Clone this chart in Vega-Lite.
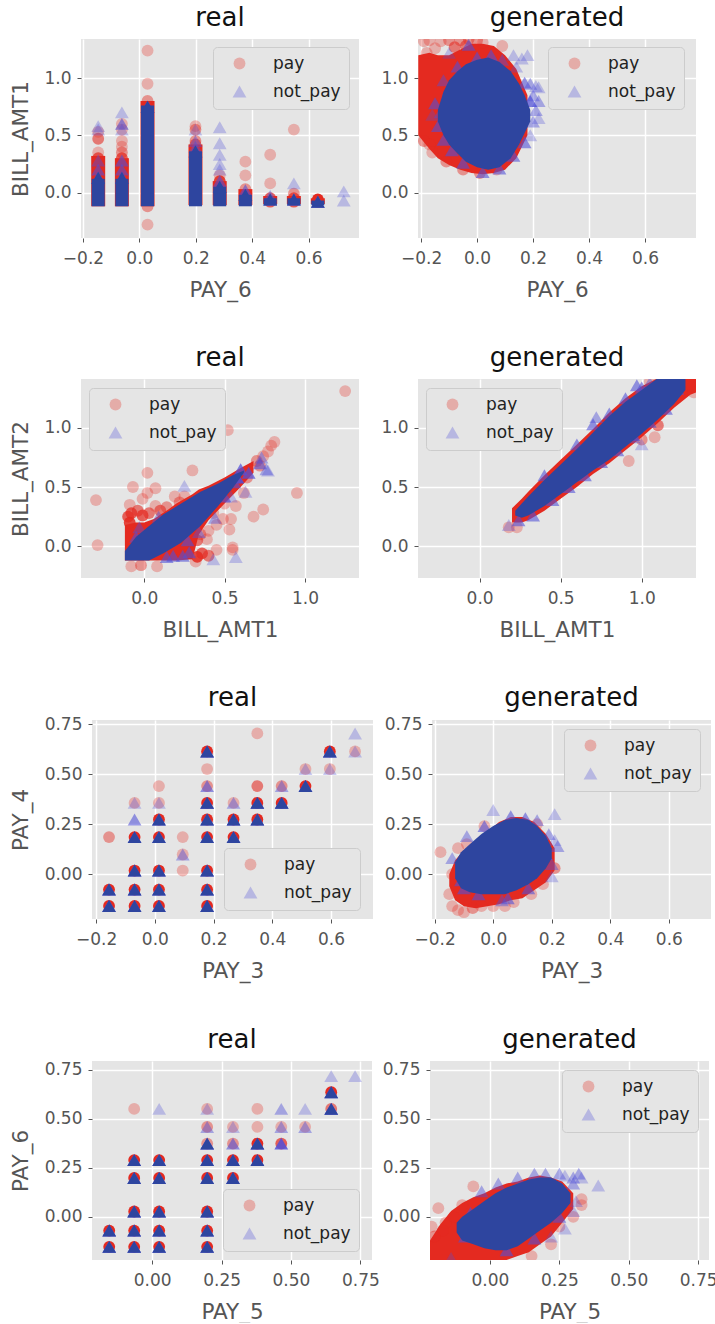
{"$schema":"https://vega.github.io/schema/vega-lite/v6.json","padding":{"left":9,"top":5,"right":0,"bottom":0},"background":"#ffffff",
"config":{"font":"DejaVu Sans","view":{"fill":"#e5e5e5","stroke":null},"axis":{"grid":true,"gridColor":"#ffffff","gridWidth":1.5,"domain":false,"tickColor":"#555555","tickSize":4,"labelColor":"#555555","labelFontSize":17,"titleColor":"#555555","titleFontSize":21.5,"titleFontWeight":"normal"},"axisX":{"labelPadding":8,"titlePadding":13},"axisY":{"labelPadding":6,"titlePadding":11.5},"title":{"fontSize":26,"fontWeight":"normal","color":"#111111","offset":8},"legend":{"fillColor":"#e5e5e5","strokeColor":"#cccccc","cornerRadius":4,"padding":8,"labelFontSize":17,"labelColor":"#222222","symbolOpacity":0.3,"rowPadding":9,"labelOffset":25,"symbolOffset":10}},
"datasets":{
"none":[],
"a1":[
{"s":"pay","x":-0.146,"y":-0.12,"y2":0.32},{"s":"pay","x":-0.062,"y":-0.12,"y2":0.3},{"s":"pay","x":0.029,"y":-0.12,"y2":0.8},{"s":"pay","x":0.199,"y":-0.11,"y2":0.42},{"s":"pay","x":0.285,"y":-0.11,"y2":0.1},{"s":"pay","x":0.376,"y":-0.11,"y2":0.03},{"s":"pay","x":0.464,"y":-0.1,"y2":-0.03},{"s":"pay","x":0.548,"y":-0.1,"y2":-0.03},{"s":"pay","x":0.633,"y":-0.1,"y2":-0.05},
{"s":"not_pay","x":-0.146,"y":-0.12,"y2":0.12},{"s":"not_pay","x":-0.062,"y":-0.12,"y2":0.12},{"s":"not_pay","x":0.029,"y":-0.12,"y2":0.76},{"s":"not_pay","x":0.199,"y":-0.12,"y2":0.36},{"s":"not_pay","x":0.285,"y":-0.12,"y2":0.05},{"s":"not_pay","x":0.376,"y":-0.12,"y2":-0.02},{"s":"not_pay","x":0.464,"y":-0.11,"y2":-0.05},{"s":"not_pay","x":0.548,"y":-0.11,"y2":-0.05},{"s":"not_pay","x":0.633,"y":-0.11,"y2":-0.07}],
"p1":[
{"x":-0.146,"y":0.3,"s":"pay","n":4},{"x":-0.146,"y":0.35,"s":"pay","n":1},{"x":-0.146,"y":0.47,"s":"pay","n":3},{"x":-0.146,"y":0.53,"s":"pay","n":1},
{"x":-0.062,"y":0.3,"s":"pay","n":4},{"x":-0.062,"y":0.35,"s":"pay","n":2},{"x":-0.062,"y":0.4,"s":"pay","n":1},{"x":-0.062,"y":0.45,"s":"pay","n":1},{"x":-0.062,"y":0.55,"s":"pay","n":1},{"x":-0.062,"y":0.6,"s":"pay","n":1},
{"x":0.029,"y":-0.28,"s":"pay","n":1},{"x":0.029,"y":-0.12,"s":"pay","n":2},{"x":0.029,"y":0.8,"s":"pay","n":2},{"x":0.029,"y":0.95,"s":"pay","n":1},{"x":0.029,"y":1.24,"s":"pay","n":1},
{"x":0.199,"y":0.42,"s":"pay","n":3},{"x":0.199,"y":0.45,"s":"pay","n":2},{"x":0.199,"y":0.55,"s":"pay","n":2},{"x":0.199,"y":0.58,"s":"pay","n":1},
{"x":0.285,"y":0.1,"s":"pay","n":5},{"x":0.285,"y":0.15,"s":"pay","n":1},
{"x":0.376,"y":0.03,"s":"pay","n":2},{"x":0.376,"y":0.15,"s":"pay","n":1},{"x":0.376,"y":0.27,"s":"pay","n":1},
{"x":0.464,"y":-0.08,"s":"pay","n":4},{"x":0.464,"y":-0.05,"s":"pay","n":4},{"x":0.464,"y":0.08,"s":"pay","n":1},{"x":0.464,"y":0.33,"s":"pay","n":1},
{"x":0.548,"y":-0.08,"s":"pay","n":4},{"x":0.548,"y":-0.05,"s":"pay","n":4},{"x":0.548,"y":-0.01,"s":"pay","n":2},{"x":0.548,"y":0.55,"s":"pay","n":1},
{"x":0.633,"y":-0.08,"s":"pay","n":6},{"x":0.633,"y":-0.06,"s":"pay","n":6},
{"x":-0.146,"y":0.13,"s":"not_pay","n":6},{"x":-0.146,"y":0.2,"s":"not_pay","n":3},{"x":-0.146,"y":0.28,"s":"not_pay","n":2},{"x":-0.146,"y":0.55,"s":"not_pay","n":1},{"x":-0.146,"y":0.58,"s":"not_pay","n":1},
{"x":-0.062,"y":0.13,"s":"not_pay","n":6},{"x":-0.062,"y":0.2,"s":"not_pay","n":3},{"x":-0.062,"y":0.28,"s":"not_pay","n":3},{"x":-0.062,"y":0.55,"s":"not_pay","n":1},{"x":-0.062,"y":0.6,"s":"not_pay","n":3},{"x":-0.062,"y":0.7,"s":"not_pay","n":1},
{"x":0.029,"y":0.75,"s":"not_pay","n":6},
{"x":0.199,"y":0.36,"s":"not_pay","n":6},{"x":0.199,"y":0.4,"s":"not_pay","n":2},{"x":0.199,"y":0.45,"s":"not_pay","n":2},{"x":0.199,"y":0.55,"s":"not_pay","n":1},
{"x":0.285,"y":0.05,"s":"not_pay","n":6},{"x":0.285,"y":0.1,"s":"not_pay","n":3},{"x":0.285,"y":0.2,"s":"not_pay","n":1},{"x":0.285,"y":0.25,"s":"not_pay","n":1},{"x":0.285,"y":0.33,"s":"not_pay","n":1},{"x":0.285,"y":0.43,"s":"not_pay","n":1},{"x":0.285,"y":0.57,"s":"not_pay","n":1},
{"x":0.376,"y":-0.02,"s":"not_pay","n":6},{"x":0.376,"y":0.02,"s":"not_pay","n":3},
{"x":0.464,"y":-0.06,"s":"not_pay","n":6},{"x":0.464,"y":-0.03,"s":"not_pay","n":2},
{"x":0.548,"y":-0.06,"s":"not_pay","n":6},{"x":0.548,"y":0.08,"s":"not_pay","n":1},
{"x":0.633,"y":-0.08,"s":"not_pay","n":6},{"x":0.725,"y":0.01,"s":"not_pay","n":1},{"x":0.725,"y":-0.07,"s":"not_pay","n":1}],
"a2":[
{"s":"pay","x":-0.21,"y":0.5,"y2":1.2},{"s":"pay","x":-0.17,"y":0.38,"y2":1.22},{"s":"pay","x":-0.14,"y":0.3,"y2":1.2},{"s":"pay","x":-0.1,"y":0.24,"y2":1.2},{"s":"pay","x":-0.06,"y":0.2,"y2":1.25},{"s":"pay","x":-0.02,"y":0.17,"y2":1.3},{"s":"pay","x":0.02,"y":0.16,"y2":1.3},{"s":"pay","x":0.06,"y":0.17,"y2":1.28},{"s":"pay","x":0.1,"y":0.2,"y2":1.2},{"s":"pay","x":0.14,"y":0.3,"y2":1.08},{"s":"pay","x":0.18,"y":0.5,"y2":0.85},
{"s":"not_pay","x":-0.14,"y":0.62,"y2":0.72},{"s":"not_pay","x":-0.12,"y":0.5,"y2":0.88},{"s":"not_pay","x":-0.1,"y":0.42,"y2":0.98},{"s":"not_pay","x":-0.07,"y":0.34,"y2":1.06},{"s":"not_pay","x":-0.04,"y":0.27,"y2":1.12},{"s":"not_pay","x":0,"y":0.22,"y2":1.16},{"s":"not_pay","x":0.04,"y":0.2,"y2":1.18},{"s":"not_pay","x":0.08,"y":0.22,"y2":1.14},{"s":"not_pay","x":0.12,"y":0.3,"y2":1.06},{"s":"not_pay","x":0.15,"y":0.42,"y2":0.95},{"s":"not_pay","x":0.17,"y":0.52,"y2":0.85},{"s":"not_pay","x":0.19,"y":0.62,"y2":0.72}],
"p2":[
{"x":-0.19,"y":1.32,"s":"pay","n":1},{"x":-0.17,"y":1.33,"s":"pay","n":1},{"x":-0.18,"y":1.22,"s":"pay","n":1},{"x":-0.13,"y":1.32,"s":"pay","n":1},{"x":-0.1,"y":1.33,"s":"pay","n":2},{"x":-0.06,"y":1.33,"s":"pay","n":2},{"x":-0.03,"y":1.34,"s":"pay","n":2},{"x":0,"y":1.33,"s":"pay","n":2},{"x":0.02,"y":1.31,"s":"pay","n":1},{"x":0.09,"y":1.28,"s":"pay","n":1},{"x":-0.15,"y":1.26,"s":"pay","n":1},{"x":-0.08,"y":1.27,"s":"pay","n":3},{"x":-0.04,"y":1.28,"s":"pay","n":3},{"x":-0.17,"y":0.42,"s":"pay","n":1},{"x":-0.16,"y":0.35,"s":"pay","n":1},{"x":-0.19,"y":0.45,"s":"pay","n":2},{"x":-0.11,"y":0.27,"s":"pay","n":2},{"x":-0.05,"y":0.2,"s":"pay","n":2},{"x":0.01,"y":0.17,"s":"pay","n":2},{"x":0.07,"y":0.2,"s":"pay","n":1},{"x":0.13,"y":0.95,"s":"pay","n":1},
{"x":-0.03,"y":1.29,"s":"not_pay","n":3},{"x":-0.1,"y":1.22,"s":"not_pay","n":1},{"x":0.13,"y":1.2,"s":"not_pay","n":1},{"x":0.18,"y":1.2,"s":"not_pay","n":1},{"x":0.16,"y":1.17,"s":"not_pay","n":1},{"x":0.14,"y":1.1,"s":"not_pay","n":1},{"x":0.19,"y":0.95,"s":"not_pay","n":2},{"x":0.21,"y":0.93,"s":"not_pay","n":1},{"x":0.22,"y":0.92,"s":"not_pay","n":1},{"x":0.2,"y":0.85,"s":"not_pay","n":2},{"x":0.22,"y":0.8,"s":"not_pay","n":2},{"x":0.21,"y":0.72,"s":"not_pay","n":2},{"x":0.22,"y":0.65,"s":"not_pay","n":1},{"x":0.2,"y":0.62,"s":"not_pay","n":2},{"x":0.19,"y":0.5,"s":"not_pay","n":1},{"x":-0.13,"y":0.7,"s":"not_pay","n":2},{"x":-0.16,"y":0.68,"s":"not_pay","n":1},{"x":-0.15,"y":0.78,"s":"not_pay","n":3},{"x":-0.14,"y":0.58,"s":"not_pay","n":3},{"x":-0.12,"y":0.46,"s":"not_pay","n":3},{"x":-0.1,"y":0.9,"s":"not_pay","n":4},{"x":-0.12,"y":0.98,"s":"not_pay","n":2},{"x":-0.07,"y":1.1,"s":"not_pay","n":3},{"x":0,"y":1.18,"s":"not_pay","n":3},{"x":0.05,"y":1.2,"s":"not_pay","n":3},{"x":0.09,"y":1.16,"s":"not_pay","n":2},{"x":0.17,"y":0.96,"s":"not_pay","n":3},{"x":0.19,"y":0.8,"s":"not_pay","n":4},{"x":0.17,"y":0.44,"s":"not_pay","n":3},{"x":0.13,"y":0.32,"s":"not_pay","n":3},{"x":0.08,"y":0.21,"s":"not_pay","n":3},{"x":0.02,"y":0.18,"s":"not_pay","n":3},{"x":-0.05,"y":0.26,"s":"not_pay","n":3},{"x":-0.09,"y":0.37,"s":"not_pay","n":3}],
"a3":[
{"s":"pay","x":-0.12,"y":-0.12,"y2":0.18},{"s":"pay","x":-0.05,"y":-0.12,"y2":0.2},{"s":"pay","x":0,"y":-0.12,"y2":0.2},{"s":"pay","x":0.06,"y":-0.12,"y2":0.23},{"s":"pay","x":0.15,"y":-0.12,"y2":0.31},{"s":"pay","x":0.2,"y":-0.12,"y2":0.36},{"s":"pay","x":0.3,"y":-0.11,"y2":0.44},{"s":"pay","x":0.34,"y":0.1,"y2":0.48},{"s":"pay","x":0.4,"y":0.22,"y2":0.51},{"s":"pay","x":0.5,"y":0.36,"y2":0.58},{"s":"pay","x":0.6,"y":0.5,"y2":0.66},{"s":"pay","x":0.68,"y":0.62,"y2":0.72},
{"s":"not_pay","x":-0.12,"y":-0.12,"y2":-0.04},{"s":"not_pay","x":-0.05,"y":-0.12,"y2":0.08},{"s":"not_pay","x":0.03,"y":-0.12,"y2":0.17},{"s":"not_pay","x":0.12,"y":-0.06,"y2":0.27},{"s":"not_pay","x":0.23,"y":0.03,"y2":0.36},{"s":"not_pay","x":0.35,"y":0.17,"y2":0.46},{"s":"not_pay","x":0.46,"y":0.34,"y2":0.53},{"s":"not_pay","x":0.55,"y":0.49,"y2":0.6},{"s":"not_pay","x":0.62,"y":0.62,"y2":0.64}],
"p3":[
{"x":-0.1,"y":0.25,"s":"pay","n":4},{"x":-0.08,"y":0.28,"s":"pay","n":4},{"x":-0.04,"y":0.3,"s":"pay","n":3},{"x":-0.01,"y":0.26,"s":"pay","n":4},{"x":0.03,"y":0.28,"s":"pay","n":3},{"x":0.1,"y":0.3,"s":"pay","n":3},{"x":0.14,"y":0.33,"s":"pay","n":2},{"x":-0.09,"y":0.2,"s":"pay","n":5},
{"x":1.25,"y":1.31,"s":"pay","n":1},{"x":0.52,"y":0.98,"s":"pay","n":1},{"x":0.95,"y":0.45,"s":"pay","n":1},{"x":-0.3,"y":0.39,"s":"pay","n":1},{"x":-0.29,"y":0.01,"s":"pay","n":1},{"x":0.02,"y":0.62,"s":"pay","n":1},{"x":-0.07,"y":0.5,"s":"pay","n":1},{"x":0.3,"y":0.64,"s":"pay","n":1},{"x":0.07,"y":0.49,"s":"pay","n":1},{"x":0.02,"y":0.45,"s":"pay","n":1},{"x":-0.01,"y":0.4,"s":"pay","n":1},{"x":-0.09,"y":0.35,"s":"pay","n":1},{"x":0.07,"y":0.34,"s":"pay","n":1},{"x":0.19,"y":0.42,"s":"pay","n":1},{"x":0.25,"y":0.42,"s":"pay","n":1},{"x":0.22,"y":0.37,"s":"pay","n":2},{"x":0.81,"y":0.88,"s":"pay","n":1},{"x":0.79,"y":0.85,"s":"pay","n":1},{"x":0.77,"y":0.8,"s":"pay","n":1},{"x":0.74,"y":0.76,"s":"pay","n":1},{"x":0.7,"y":0.72,"s":"pay","n":2},{"x":0.74,"y":0.31,"s":"pay","n":1},{"x":0.68,"y":0.25,"s":"pay","n":1},{"x":0.53,"y":0.14,"s":"pay","n":1},{"x":0.57,"y":0.34,"s":"pay","n":1},{"x":0.54,"y":0.23,"s":"pay","n":1},{"x":0.49,"y":0.23,"s":"pay","n":1},{"x":0.43,"y":0.28,"s":"pay","n":1},{"x":0.39,"y":0.06,"s":"pay","n":1},{"x":0.45,"y":-0.03,"s":"pay","n":1},{"x":0.55,"y":-0.03,"s":"pay","n":1},{"x":0.55,"y":-0.01,"s":"pay","n":1},{"x":-0.08,"y":-0.17,"s":"pay","n":1},{"x":0.08,"y":-0.17,"s":"pay","n":1},{"x":0.32,"y":-0.13,"s":"pay","n":1},{"x":0.62,"y":0.45,"s":"pay","n":1},{"x":0.5,"y":0.36,"s":"pay","n":1},{"x":0.35,"y":0.1,"s":"pay","n":2},{"x":0.4,"y":0.13,"s":"pay","n":1},{"x":0.36,"y":-0.06,"s":"pay","n":4},{"x":0.33,"y":-0.09,"s":"pay","n":5},{"x":0.4,"y":-0.08,"s":"pay","n":3},{"x":0.33,"y":0.05,"s":"pay","n":3},{"x":0.45,"y":0.18,"s":"pay","n":1},{"x":-0.02,"y":-0.16,"s":"pay","n":2},{"x":0.64,"y":0.58,"s":"pay","n":2},{"x":0.72,"y":0.68,"s":"pay","n":2},
{"x":0.25,"y":0.51,"s":"not_pay","n":1},{"x":0.43,"y":-0.11,"s":"not_pay","n":1},{"x":0.57,"y":-0.09,"s":"not_pay","n":1},{"x":0.63,"y":0.46,"s":"not_pay","n":1},{"x":0.54,"y":0.42,"s":"not_pay","n":1},{"x":0.76,"y":0.65,"s":"not_pay","n":2},{"x":0.77,"y":0.64,"s":"not_pay","n":1},{"x":0.72,"y":0.7,"s":"not_pay","n":3},{"x":0.73,"y":0.75,"s":"not_pay","n":2},{"x":0.6,"y":0.65,"s":"not_pay","n":4},{"x":0.65,"y":0.62,"s":"not_pay","n":4},{"x":0.58,"y":0.58,"s":"not_pay","n":5},{"x":0.09,"y":0.25,"s":"not_pay","n":2},{"x":-0.03,"y":0.16,"s":"not_pay","n":2},{"x":-0.05,"y":0.08,"s":"not_pay","n":3},{"x":0.18,"y":-0.08,"s":"not_pay","n":3},{"x":0.24,"y":-0.08,"s":"not_pay","n":3},{"x":0.28,"y":-0.05,"s":"not_pay","n":3},{"x":0.14,"y":-0.09,"s":"not_pay","n":3},{"x":0.27,"y":0.05,"s":"not_pay","n":3},{"x":0.34,"y":0.12,"s":"not_pay","n":2},{"x":0.44,"y":0.24,"s":"not_pay","n":2},{"x":0.5,"y":0.42,"s":"not_pay","n":3},{"x":0.56,"y":0.54,"s":"not_pay","n":3}],
"a4":[
{"s":"pay","x":0.2,"y":0.2,"y2":0.32},{"s":"pay","x":0.26,"y":0.2,"y2":0.4},{"s":"pay","x":0.3,"y":0.22,"y2":0.46},{"s":"pay","x":0.4,"y":0.3,"y2":0.6},{"s":"pay","x":0.5,"y":0.4,"y2":0.73},{"s":"pay","x":0.6,"y":0.5,"y2":0.86},{"s":"pay","x":0.7,"y":0.61,"y2":0.99},{"s":"pay","x":0.8,"y":0.7,"y2":1.13},{"s":"pay","x":0.9,"y":0.81,"y2":1.25},{"s":"pay","x":1,"y":0.92,"y2":1.35},{"s":"pay","x":1.1,"y":1.04,"y2":1.42},{"s":"pay","x":1.2,"y":1.17,"y2":1.42},{"s":"pay","x":1.3,"y":1.28,"y2":1.42},{"s":"pay","x":1.34,"y":1.3,"y2":1.42},
{"s":"not_pay","x":0.22,"y":0.26,"y2":0.3},{"s":"not_pay","x":0.26,"y":0.24,"y2":0.36},{"s":"not_pay","x":0.3,"y":0.26,"y2":0.42},{"s":"not_pay","x":0.4,"y":0.34,"y2":0.56},{"s":"not_pay","x":0.5,"y":0.44,"y2":0.69},{"s":"not_pay","x":0.6,"y":0.54,"y2":0.82},{"s":"not_pay","x":0.7,"y":0.64,"y2":0.96},{"s":"not_pay","x":0.8,"y":0.73,"y2":1.1},{"s":"not_pay","x":0.9,"y":0.84,"y2":1.22},{"s":"not_pay","x":1,"y":0.95,"y2":1.32},{"s":"not_pay","x":1.1,"y":1.07,"y2":1.42},{"s":"not_pay","x":1.2,"y":1.2,"y2":1.42},{"s":"not_pay","x":1.27,"y":1.32,"y2":1.42}],
"p4":[
{"x":1.08,"y":0.92,"s":"pay","n":1},{"x":0.92,"y":0.72,"s":"pay","n":1},{"x":0.18,"y":0.16,"s":"pay","n":1},{"x":0.23,"y":0.16,"s":"pay","n":1},{"x":1.25,"y":1.3,"s":"pay","n":2},{"x":1.32,"y":1.3,"s":"pay","n":1},{"x":1.0,"y":0.9,"s":"pay","n":2},{"x":1.1,"y":1.02,"s":"pay","n":3},{"x":1.25,"y":1.38,"s":"pay","n":2},{"x":1.3,"y":1.37,"s":"pay","n":2},{"x":1.05,"y":1.39,"s":"pay","n":1},
{"x":0.18,"y":0.18,"s":"not_pay","n":1},{"x":0.72,"y":1.09,"s":"not_pay","n":2},{"x":0.7,"y":1.03,"s":"not_pay","n":3},{"x":1.0,"y":0.86,"s":"not_pay","n":1},{"x":0.95,"y":0.92,"s":"not_pay","n":2},{"x":0.97,"y":1.36,"s":"not_pay","n":3},{"x":1.22,"y":1.33,"s":"not_pay","n":3},{"x":1.05,"y":1.38,"s":"not_pay","n":2},{"x":0.24,"y":0.22,"s":"not_pay","n":3},{"x":0.33,"y":0.26,"s":"not_pay","n":3},{"x":0.45,"y":0.39,"s":"not_pay","n":3},{"x":0.55,"y":0.5,"s":"not_pay","n":3},{"x":0.65,"y":0.6,"s":"not_pay","n":3},{"x":0.75,"y":0.71,"s":"not_pay","n":3},{"x":0.85,"y":0.81,"s":"not_pay","n":3},{"x":0.95,"y":0.94,"s":"not_pay","n":3},{"x":1.05,"y":1.05,"s":"not_pay","n":3},{"x":1.15,"y":1.16,"s":"not_pay","n":3},{"x":0.4,"y":0.6,"s":"not_pay","n":3},{"x":0.6,"y":0.86,"s":"not_pay","n":3},{"x":0.8,"y":1.12,"s":"not_pay","n":3},{"x":0.9,"y":1.25,"s":"not_pay","n":3},{"x":1.0,"y":1.34,"s":"not_pay","n":3}],
"p5":[
{"x":-0.156,"y":-0.159,"s":"pay","n":6},{"x":-0.156,"y":-0.077,"s":"pay","n":6},{"x":-0.156,"y":0.185,"s":"pay","n":2},{"x":-0.069,"y":-0.159,"s":"pay","n":6},{"x":-0.069,"y":-0.077,"s":"pay","n":6},{"x":-0.069,"y":0.018,"s":"pay","n":6},{"x":-0.069,"y":0.185,"s":"pay","n":6},{"x":-0.069,"y":0.356,"s":"pay","n":1},{"x":0.014,"y":-0.159,"s":"pay","n":6},{"x":0.014,"y":-0.077,"s":"pay","n":6},{"x":0.014,"y":0.018,"s":"pay","n":6},{"x":0.014,"y":0.185,"s":"pay","n":6},{"x":0.014,"y":0.273,"s":"pay","n":6},{"x":0.014,"y":0.356,"s":"pay","n":1},{"x":0.014,"y":0.44,"s":"pay","n":1},{"x":0.095,"y":0.185,"s":"pay","n":1},{"x":0.095,"y":0.098,"s":"pay","n":1},{"x":0.095,"y":0.018,"s":"pay","n":1},{"x":0.178,"y":-0.159,"s":"pay","n":6},{"x":0.178,"y":-0.077,"s":"pay","n":6},{"x":0.178,"y":0.018,"s":"pay","n":6},{"x":0.178,"y":0.185,"s":"pay","n":6},{"x":0.178,"y":0.273,"s":"pay","n":6},{"x":0.178,"y":0.356,"s":"pay","n":6},{"x":0.178,"y":0.613,"s":"pay","n":6},{"x":0.178,"y":0.44,"s":"pay","n":2},{"x":0.178,"y":0.525,"s":"pay","n":1},{"x":0.268,"y":0.185,"s":"pay","n":6},{"x":0.268,"y":0.273,"s":"pay","n":6},{"x":0.268,"y":0.356,"s":"pay","n":1},{"x":0.349,"y":0.273,"s":"pay","n":6},{"x":0.349,"y":0.356,"s":"pay","n":6},{"x":0.349,"y":0.44,"s":"pay","n":3},{"x":0.349,"y":0.703,"s":"pay","n":1},{"x":0.432,"y":0.356,"s":"pay","n":6},{"x":0.432,"y":0.44,"s":"pay","n":2},{"x":0.513,"y":0.44,"s":"pay","n":6},{"x":0.513,"y":0.525,"s":"pay","n":1},{"x":0.596,"y":0.613,"s":"pay","n":6},{"x":0.596,"y":0.525,"s":"pay","n":1},{"x":0.682,"y":0.613,"s":"pay","n":1},
{"x":-0.156,"y":-0.159,"s":"not_pay","n":6},{"x":-0.156,"y":-0.077,"s":"not_pay","n":6},{"x":-0.069,"y":-0.159,"s":"not_pay","n":6},{"x":-0.069,"y":-0.077,"s":"not_pay","n":6},{"x":-0.069,"y":0.018,"s":"not_pay","n":6},{"x":-0.069,"y":0.185,"s":"not_pay","n":6},{"x":-0.069,"y":0.273,"s":"not_pay","n":3},{"x":-0.069,"y":0.356,"s":"not_pay","n":1},{"x":0.014,"y":-0.159,"s":"not_pay","n":6},{"x":0.014,"y":-0.077,"s":"not_pay","n":6},{"x":0.014,"y":0.018,"s":"not_pay","n":6},{"x":0.014,"y":0.185,"s":"not_pay","n":6},{"x":0.014,"y":0.273,"s":"not_pay","n":6},{"x":0.014,"y":0.356,"s":"not_pay","n":1},{"x":0.095,"y":0.098,"s":"not_pay","n":2},{"x":0.178,"y":-0.159,"s":"not_pay","n":6},{"x":0.178,"y":-0.077,"s":"not_pay","n":6},{"x":0.178,"y":0.018,"s":"not_pay","n":6},{"x":0.178,"y":0.185,"s":"not_pay","n":6},{"x":0.178,"y":0.273,"s":"not_pay","n":6},{"x":0.178,"y":0.356,"s":"not_pay","n":6},{"x":0.178,"y":0.613,"s":"not_pay","n":6},{"x":0.178,"y":0.44,"s":"not_pay","n":3},{"x":0.268,"y":0.185,"s":"not_pay","n":6},{"x":0.268,"y":0.273,"s":"not_pay","n":6},{"x":0.268,"y":0.356,"s":"not_pay","n":2},{"x":0.349,"y":0.273,"s":"not_pay","n":6},{"x":0.349,"y":0.356,"s":"not_pay","n":6},{"x":0.432,"y":0.356,"s":"not_pay","n":6},{"x":0.432,"y":0.44,"s":"not_pay","n":2},{"x":0.513,"y":0.44,"s":"not_pay","n":6},{"x":0.513,"y":0.525,"s":"not_pay","n":1},{"x":0.596,"y":0.613,"s":"not_pay","n":6},{"x":0.596,"y":0.525,"s":"not_pay","n":1},{"x":0.682,"y":0.613,"s":"not_pay","n":1},{"x":0.682,"y":0.703,"s":"not_pay","n":1}],
"a6":[
{"s":"pay","x":-0.15,"y":-0.06,"y2":0},{"s":"pay","x":-0.13,"y":-0.13,"y2":0.07},{"s":"pay","x":-0.1,"y":-0.16,"y2":0.12},{"s":"pay","x":-0.06,"y":-0.17,"y2":0.16},{"s":"pay","x":-0.02,"y":-0.16,"y2":0.21},{"s":"pay","x":0.02,"y":-0.15,"y2":0.26},{"s":"pay","x":0.06,"y":-0.13,"y2":0.285},{"s":"pay","x":0.1,"y":-0.12,"y2":0.285},{"s":"pay","x":0.14,"y":-0.08,"y2":0.26},{"s":"pay","x":0.18,"y":-0.04,"y2":0.2},{"s":"pay","x":0.21,"y":0.02,"y2":0.13},
{"s":"not_pay","x":-0.13,"y":-0.02,"y2":0.06},{"s":"not_pay","x":-0.11,"y":-0.07,"y2":0.11},{"s":"not_pay","x":-0.08,"y":-0.09,"y2":0.15},{"s":"not_pay","x":-0.04,"y":-0.1,"y2":0.2},{"s":"not_pay","x":0,"y":-0.1,"y2":0.24},{"s":"not_pay","x":0.04,"y":-0.1,"y2":0.27},{"s":"not_pay","x":0.08,"y":-0.08,"y2":0.28},{"s":"not_pay","x":0.12,"y":-0.05,"y2":0.27},{"s":"not_pay","x":0.15,"y":-0.02,"y2":0.24},{"s":"not_pay","x":0.18,"y":0.03,"y2":0.19},{"s":"not_pay","x":0.2,"y":0.08,"y2":0.13}],
"p6":[
{"x":-0.18,"y":0.11,"s":"pay","n":1},{"x":0.21,"y":0.03,"s":"pay","n":2},{"x":-0.15,"y":-0.1,"s":"pay","n":1},{"x":-0.14,"y":-0.16,"s":"pay","n":1},{"x":-0.12,"y":-0.18,"s":"pay","n":1},{"x":-0.1,"y":-0.19,"s":"pay","n":1},{"x":-0.07,"y":-0.17,"s":"pay","n":2},{"x":-0.04,"y":-0.16,"s":"pay","n":1},{"x":0,"y":-0.16,"s":"pay","n":1},{"x":0.04,"y":-0.16,"s":"pay","n":1},{"x":0.07,"y":-0.14,"s":"pay","n":1},{"x":0.13,"y":-0.1,"s":"pay","n":1},{"x":0.17,"y":-0.05,"s":"pay","n":1},{"x":-0.14,"y":0,"s":"pay","n":1},{"x":-0.12,"y":0.13,"s":"pay","n":1},{"x":-0.09,"y":0.15,"s":"pay","n":1},{"x":-0.03,"y":0.24,"s":"pay","n":1},{"x":0.15,"y":0.25,"s":"pay","n":1},
{"x":0,"y":0.32,"s":"not_pay","n":1},{"x":0.21,"y":0.3,"s":"not_pay","n":1},{"x":0.15,"y":0.27,"s":"not_pay","n":2},{"x":0.19,"y":0.2,"s":"not_pay","n":2},{"x":0.21,"y":0.17,"s":"not_pay","n":1},{"x":0.22,"y":0.14,"s":"not_pay","n":2},{"x":0.2,"y":-0.01,"s":"not_pay","n":1},{"x":-0.14,"y":0.08,"s":"not_pay","n":2},{"x":-0.09,"y":0.19,"s":"not_pay","n":2},{"x":0.11,"y":0.28,"s":"not_pay","n":3},{"x":0.06,"y":0.29,"s":"not_pay","n":3},{"x":-0.03,"y":0.24,"s":"not_pay","n":3},{"x":0.03,"y":-0.13,"s":"not_pay","n":2},{"x":0.05,"y":-0.12,"s":"not_pay","n":3},{"x":0.18,"y":0.1,"s":"not_pay","n":3},{"x":0.2,"y":0.05,"s":"not_pay","n":2},{"x":-0.11,"y":-0.03,"s":"not_pay","n":3},{"x":-0.1,"y":-0.07,"s":"not_pay","n":3},{"x":-0.05,"y":-0.1,"s":"not_pay","n":3},{"x":0.12,"y":-0.07,"s":"not_pay","n":3}],
"p7":[
{"x":-0.155,"y":-0.153,"s":"pay","n":6},{"x":-0.155,"y":-0.07,"s":"pay","n":6},{"x":-0.065,"y":-0.153,"s":"pay","n":6},{"x":-0.065,"y":-0.07,"s":"pay","n":6},{"x":-0.065,"y":0.027,"s":"pay","n":6},{"x":-0.065,"y":0.198,"s":"pay","n":6},{"x":-0.065,"y":0.289,"s":"pay","n":6},{"x":-0.065,"y":0.55,"s":"pay","n":1},{"x":0.025,"y":-0.153,"s":"pay","n":6},{"x":0.025,"y":-0.07,"s":"pay","n":6},{"x":0.025,"y":0.027,"s":"pay","n":6},{"x":0.025,"y":0.198,"s":"pay","n":6},{"x":0.025,"y":0.289,"s":"pay","n":6},{"x":0.198,"y":-0.153,"s":"pay","n":6},{"x":0.198,"y":-0.07,"s":"pay","n":6},{"x":0.198,"y":0.027,"s":"pay","n":6},{"x":0.198,"y":0.198,"s":"pay","n":6},{"x":0.198,"y":0.289,"s":"pay","n":6},{"x":0.198,"y":0.373,"s":"pay","n":2},{"x":0.198,"y":0.458,"s":"pay","n":2},{"x":0.198,"y":0.55,"s":"pay","n":1},{"x":0.291,"y":0.198,"s":"pay","n":6},{"x":0.291,"y":0.289,"s":"pay","n":6},{"x":0.291,"y":0.373,"s":"pay","n":2},{"x":0.291,"y":0.458,"s":"pay","n":1},{"x":0.379,"y":0.289,"s":"pay","n":6},{"x":0.379,"y":0.373,"s":"pay","n":6},{"x":0.379,"y":0.458,"s":"pay","n":1},{"x":0.379,"y":0.55,"s":"pay","n":1},{"x":0.465,"y":0.373,"s":"pay","n":4},{"x":0.465,"y":0.458,"s":"pay","n":1},{"x":0.551,"y":0.458,"s":"pay","n":1},{"x":0.645,"y":0.635,"s":"pay","n":6},{"x":0.645,"y":0.55,"s":"pay","n":3},
{"x":-0.155,"y":-0.153,"s":"not_pay","n":6},{"x":-0.155,"y":-0.07,"s":"not_pay","n":6},{"x":-0.065,"y":-0.153,"s":"not_pay","n":6},{"x":-0.065,"y":-0.07,"s":"not_pay","n":6},{"x":-0.065,"y":0.027,"s":"not_pay","n":6},{"x":-0.065,"y":0.198,"s":"not_pay","n":6},{"x":-0.065,"y":0.289,"s":"not_pay","n":6},{"x":0.025,"y":0.55,"s":"not_pay","n":1},{"x":0.025,"y":-0.153,"s":"not_pay","n":6},{"x":0.025,"y":-0.07,"s":"not_pay","n":6},{"x":0.025,"y":0.027,"s":"not_pay","n":6},{"x":0.025,"y":0.198,"s":"not_pay","n":6},{"x":0.025,"y":0.289,"s":"not_pay","n":6},{"x":0.198,"y":-0.153,"s":"not_pay","n":6},{"x":0.198,"y":-0.07,"s":"not_pay","n":6},{"x":0.198,"y":0.027,"s":"not_pay","n":6},{"x":0.198,"y":0.198,"s":"not_pay","n":6},{"x":0.198,"y":0.289,"s":"not_pay","n":6},{"x":0.198,"y":0.373,"s":"not_pay","n":6},{"x":0.198,"y":0.458,"s":"not_pay","n":2},{"x":0.198,"y":0.55,"s":"not_pay","n":1},{"x":0.291,"y":0.198,"s":"not_pay","n":6},{"x":0.291,"y":0.289,"s":"not_pay","n":6},{"x":0.291,"y":0.373,"s":"not_pay","n":3},{"x":0.291,"y":0.458,"s":"not_pay","n":1},{"x":0.379,"y":0.289,"s":"not_pay","n":6},{"x":0.379,"y":0.373,"s":"not_pay","n":6},{"x":0.465,"y":0.373,"s":"not_pay","n":5},{"x":0.465,"y":0.458,"s":"not_pay","n":2},{"x":0.465,"y":0.55,"s":"not_pay","n":2},{"x":0.551,"y":0.458,"s":"not_pay","n":2},{"x":0.551,"y":0.55,"s":"not_pay","n":1},{"x":0.645,"y":0.635,"s":"not_pay","n":6},{"x":0.645,"y":0.55,"s":"not_pay","n":6},{"x":0.645,"y":0.717,"s":"not_pay","n":1},{"x":0.731,"y":0.717,"s":"not_pay","n":1}],
"a8":[
{"s":"pay","x":-0.216,"y":-0.22,"y2":-0.12},{"s":"pay","x":-0.18,"y":-0.22,"y2":-0.04},{"s":"pay","x":-0.14,"y":-0.22,"y2":0.03},{"s":"pay","x":-0.1,"y":-0.22,"y2":0.07},{"s":"pay","x":-0.06,"y":-0.22,"y2":0.1},{"s":"pay","x":-0.02,"y":-0.22,"y2":0.12},{"s":"pay","x":0.02,"y":-0.22,"y2":0.15},{"s":"pay","x":0.06,"y":-0.22,"y2":0.17},{"s":"pay","x":0.1,"y":-0.2,"y2":0.18},{"s":"pay","x":0.14,"y":-0.18,"y2":0.2},{"s":"pay","x":0.18,"y":-0.14,"y2":0.21},{"s":"pay","x":0.22,"y":-0.1,"y2":0.2},{"s":"pay","x":0.26,"y":-0.03,"y2":0.18},{"s":"pay","x":0.3,"y":0.04,"y2":0.12},
{"s":"not_pay","x":-0.12,"y":-0.08,"y2":-0.03},{"s":"not_pay","x":-0.1,"y":-0.12,"y2":0},{"s":"not_pay","x":-0.06,"y":-0.14,"y2":0.04},{"s":"not_pay","x":-0.02,"y":-0.16,"y2":0.08},{"s":"not_pay","x":0.02,"y":-0.17,"y2":0.12},{"s":"not_pay","x":0.06,"y":-0.17,"y2":0.15},{"s":"not_pay","x":0.1,"y":-0.15,"y2":0.17},{"s":"not_pay","x":0.14,"y":-0.11,"y2":0.19},{"s":"not_pay","x":0.18,"y":-0.07,"y2":0.2},{"s":"not_pay","x":0.22,"y":-0.03,"y2":0.2},{"s":"not_pay","x":0.26,"y":0.02,"y2":0.17},{"s":"not_pay","x":0.29,"y":0.07,"y2":0.12}],
"p8":[
{"x":-0.186,"y":0.044,"s":"pay","n":1},{"x":-0.06,"y":0.155,"s":"pay","n":1},{"x":-0.21,"y":-0.05,"s":"pay","n":1},{"x":-0.2,"y":-0.1,"s":"pay","n":2},{"x":0.33,"y":0.09,"s":"pay","n":1},{"x":0.33,"y":0.06,"s":"pay","n":1},{"x":0.3,"y":0,"s":"pay","n":1},{"x":0.22,"y":-0.14,"s":"pay","n":1},{"x":0.15,"y":-0.2,"s":"pay","n":1},{"x":0.25,"y":-0.05,"s":"pay","n":1},{"x":-0.16,"y":-0.03,"s":"pay","n":1},{"x":-0.13,"y":0,"s":"pay","n":2},{"x":-0.1,"y":0.06,"s":"pay","n":1},{"x":-0.17,"y":-0.07,"s":"pay","n":2},
{"x":0.39,"y":0.16,"s":"not_pay","n":1},{"x":0.32,"y":0.22,"s":"not_pay","n":2},{"x":0.33,"y":0.2,"s":"not_pay","n":1},{"x":0.3,"y":0.2,"s":"not_pay","n":2},{"x":0.3,"y":0.17,"s":"not_pay","n":2},{"x":0.27,"y":0.21,"s":"not_pay","n":1},{"x":0.25,"y":0.22,"s":"not_pay","n":2},{"x":0.2,"y":0.22,"s":"not_pay","n":2},{"x":0.16,"y":0.22,"s":"not_pay","n":2},{"x":0.1,"y":0.2,"s":"not_pay","n":2},{"x":0.03,"y":0.17,"s":"not_pay","n":2},{"x":-0.03,"y":0.13,"s":"not_pay","n":2},{"x":0.27,"y":-0.06,"s":"not_pay","n":1},{"x":0.31,"y":0.08,"s":"not_pay","n":1},{"x":0.3,"y":0.03,"s":"not_pay","n":1},{"x":0.06,"y":-0.17,"s":"not_pay","n":3},{"x":-0.14,"y":-0.21,"s":"not_pay","n":1},{"x":0.22,"y":-0.1,"s":"not_pay","n":1},{"x":-0.09,"y":-0.1,"s":"not_pay","n":3},{"x":-0.07,"y":0.02,"s":"not_pay","n":3},{"x":0.16,"y":-0.11,"s":"not_pay","n":3},{"x":0.25,"y":0,"s":"not_pay","n":3}]
},
"align":"none","spacing":44,
"resolve":{"scale":{"color":"independent","shape":"independent","opacity":"independent","size":"independent"},"legend":{"color":"independent","shape":"independent","opacity":"independent","size":"independent"}},
"vconcat":[
{"spacing":0,"align":"none","resolve":{"scale":{"color":"independent","shape":"independent","opacity":"independent","size":"independent"},"legend":{"color":"independent","shape":"independent","opacity":"independent","size":"independent"}},"hconcat":[
{"width":1,"height":1,"view":{"fill":null,"stroke":null},"data":{"name":"none"},"mark":{"type":"point"},"encoding":{}},
{"spacing":21,"align":"none","resolve":{"scale":{"color":"independent","shape":"independent","opacity":"independent","size":"independent"},"legend":{"color":"independent","shape":"independent","opacity":"independent","size":"independent"}},"hconcat":[
{"title":"real","width":278,"height":199,"encoding":{"x":{"field":"x","type":"quantitative","title":"PAY_6","scale":{"domain":[-0.207,0.779],"nice":false,"zero":false},"axis":{"values":[-0.2,0,0.2,0.4,0.6],"format":".1f"}},"y":{"field":"y","type":"quantitative","title":"BILL_AMT1","scale":{"domain":[-0.397,1.341],"nice":false,"zero":false},"axis":{"values":[0,0.5,1],"format":".1f"}}},
"layer":[{"data":{"name":"a1"},"transform":[{"filter":"datum.s=='pay'"}],"mark":{"type":"rule","color":"#e42a20","strokeWidth":14,"clip":true},"encoding":{"y2":{"field":"y2"}}},
{"data":{"name":"p1"},"mark":{"type":"point","filled":true,"clip":true},"encoding":{"color":{"field":"s","type":"nominal","scale":{"domain":["pay","not_pay"],"range":["#e42a20","#5050d8"]},"legend":{"title":null,"orient":"none","legendX":132,"legendY":8}},"shape":{"field":"s","type":"nominal","scale":{"domain":["pay","not_pay"],"range":["circle","triangle-up"]},"legend":{"title":null,"orient":"none","legendX":132,"legendY":8}},"size":{"field":"s","type":"nominal","scale":{"domain":["pay","not_pay"],"range":[140,190]},"legend":{"title":null,"orient":"none","legendX":132,"legendY":8}},"opacity":{"field":"n","type":"quantitative","scale":{"domain":[1,6],"range":[0.3,1],"clamp":true},"legend":null}}},
{"data":{"name":"p1"},"transform":[{"filter":"datum.s=='not_pay'&&datum.n>=6"}],"mark":{"type":"point","filled":true,"size":190,"clip":true,"shape":"triangle-up","color":"#2e459f","opacity":1}},
{"data":{"name":"a1"},"transform":[{"filter":"datum.s=='not_pay'"}],"mark":{"type":"rule","color":"#2e459f","strokeWidth":13,"clip":true},"encoding":{"y2":{"field":"y2"}}}]},
{"title":"generated","width":278,"height":199,"encoding":{"x":{"field":"x","type":"quantitative","title":"PAY_6","scale":{"domain":[-0.211,0.782],"nice":false,"zero":false},"axis":{"values":[-0.2,0,0.2,0.4,0.6],"format":".1f"}},"y":{"field":"y","type":"quantitative","title":null,"scale":{"domain":[-0.397,1.341],"nice":false,"zero":false},"axis":{"values":[0,0.5,1],"format":".1f"}}},
"layer":[{"data":{"name":"a2"},"transform":[{"filter":"datum.s=='pay'"}],"mark":{"type":"area","color":"#e42a20","clip":true,"opacity":1},"encoding":{"y2":{"field":"y2"}}},
{"data":{"name":"p2"},"mark":{"type":"point","filled":true,"clip":true},"encoding":{"color":{"field":"s","type":"nominal","scale":{"domain":["pay","not_pay"],"range":["#e42a20","#5050d8"]},"legend":{"title":null,"orient":"none","legendX":130,"legendY":8}},"shape":{"field":"s","type":"nominal","scale":{"domain":["pay","not_pay"],"range":["circle","triangle-up"]},"legend":{"title":null,"orient":"none","legendX":130,"legendY":8}},"size":{"field":"s","type":"nominal","scale":{"domain":["pay","not_pay"],"range":[140,190]},"legend":{"title":null,"orient":"none","legendX":130,"legendY":8}},"opacity":{"field":"n","type":"quantitative","scale":{"domain":[1,6],"range":[0.3,1],"clamp":true},"legend":null}}},
{"data":{"name":"a2"},"transform":[{"filter":"datum.s=='not_pay'"}],"mark":{"type":"area","color":"#2e459f","clip":true,"opacity":1},"encoding":{"y2":{"field":"y2"}}}]}
]}]},
{"spacing":0,"align":"none","resolve":{"scale":{"color":"independent","shape":"independent","opacity":"independent","size":"independent"},"legend":{"color":"independent","shape":"independent","opacity":"independent","size":"independent"}},"hconcat":[
{"width":1,"height":1,"view":{"fill":null,"stroke":null},"data":{"name":"none"},"mark":{"type":"point"},"encoding":{}},
{"spacing":21,"align":"none","resolve":{"scale":{"color":"independent","shape":"independent","opacity":"independent","size":"independent"},"legend":{"color":"independent","shape":"independent","opacity":"independent","size":"independent"}},"hconcat":[
{"title":"real","width":278,"height":199,"encoding":{"x":{"field":"x","type":"quantitative","title":"BILL_AMT1","scale":{"domain":[-0.393,1.336],"nice":false,"zero":false},"axis":{"values":[0,0.5,1],"format":".1f"}},"y":{"field":"y","type":"quantitative","title":"BILL_AMT2","scale":{"domain":[-0.268,1.412],"nice":false,"zero":false},"axis":{"values":[0,0.5,1],"format":".1f"}}},
"layer":[{"data":{"name":"a3"},"transform":[{"filter":"datum.s=='pay'"}],"mark":{"type":"area","color":"#e42a20","clip":true,"opacity":1},"encoding":{"y2":{"field":"y2"}}},
{"data":{"name":"p3"},"mark":{"type":"point","filled":true,"clip":true},"encoding":{"color":{"field":"s","type":"nominal","scale":{"domain":["pay","not_pay"],"range":["#e42a20","#5050d8"]},"legend":{"title":null,"orient":"none","legendX":8,"legendY":9}},"shape":{"field":"s","type":"nominal","scale":{"domain":["pay","not_pay"],"range":["circle","triangle-up"]},"legend":{"title":null,"orient":"none","legendX":8,"legendY":9}},"size":{"field":"s","type":"nominal","scale":{"domain":["pay","not_pay"],"range":[140,190]},"legend":{"title":null,"orient":"none","legendX":8,"legendY":9}},"opacity":{"field":"n","type":"quantitative","scale":{"domain":[1,6],"range":[0.3,1],"clamp":true},"legend":null}}},
{"data":{"name":"a3"},"transform":[{"filter":"datum.s=='not_pay'"}],"mark":{"type":"area","color":"#2e459f","clip":true,"opacity":1},"encoding":{"y2":{"field":"y2"}}}]},
{"title":"generated","width":278,"height":199,"encoding":{"x":{"field":"x","type":"quantitative","title":"BILL_AMT1","scale":{"domain":[-0.38,1.335],"nice":false,"zero":false},"axis":{"values":[0,0.5,1],"format":".1f"}},"y":{"field":"y","type":"quantitative","title":null,"scale":{"domain":[-0.268,1.412],"nice":false,"zero":false},"axis":{"values":[0,0.5,1],"format":".1f"}}},
"layer":[{"data":{"name":"a4"},"transform":[{"filter":"datum.s=='pay'"}],"mark":{"type":"area","color":"#e42a20","clip":true,"opacity":1},"encoding":{"y2":{"field":"y2"}}},
{"data":{"name":"p4"},"mark":{"type":"point","filled":true,"clip":true},"encoding":{"color":{"field":"s","type":"nominal","scale":{"domain":["pay","not_pay"],"range":["#e42a20","#5050d8"]},"legend":{"title":null,"orient":"none","legendX":8,"legendY":9}},"shape":{"field":"s","type":"nominal","scale":{"domain":["pay","not_pay"],"range":["circle","triangle-up"]},"legend":{"title":null,"orient":"none","legendX":8,"legendY":9}},"size":{"field":"s","type":"nominal","scale":{"domain":["pay","not_pay"],"range":[140,190]},"legend":{"title":null,"orient":"none","legendX":8,"legendY":9}},"opacity":{"field":"n","type":"quantitative","scale":{"domain":[1,6],"range":[0.3,1],"clamp":true},"legend":null}}},
{"data":{"name":"a4"},"transform":[{"filter":"datum.s=='not_pay'"}],"mark":{"type":"area","color":"#2e459f","clip":true,"opacity":1},"encoding":{"y2":{"field":"y2"}}}]}
]}]},
{"spacing":0,"align":"none","resolve":{"scale":{"color":"independent","shape":"independent","opacity":"independent","size":"independent"},"legend":{"color":"independent","shape":"independent","opacity":"independent","size":"independent"}},"hconcat":[
{"width":1,"height":1,"view":{"fill":null,"stroke":null},"data":{"name":"none"},"mark":{"type":"point"},"encoding":{}},
{"spacing":11,"align":"none","resolve":{"scale":{"color":"independent","shape":"independent","opacity":"independent","size":"independent"},"legend":{"color":"independent","shape":"independent","opacity":"independent","size":"independent"}},"hconcat":[
{"title":{"text":"real","offset":4},"width":281,"height":199,"encoding":{"x":{"field":"x","type":"quantitative","title":"PAY_3","scale":{"domain":[-0.214,0.743],"nice":false,"zero":false},"axis":{"values":[-0.2,0,0.2,0.4,0.6],"format":".1f"}},"y":{"field":"y","type":"quantitative","title":"PAY_4","scale":{"domain":[-0.224,0.77],"nice":false,"zero":false},"axis":{"values":[0,0.25,0.5,0.75],"format":".2f"}}},
"layer":[{"data":{"name":"p5"},"mark":{"type":"point","filled":true,"clip":true},"encoding":{"color":{"field":"s","type":"nominal","scale":{"domain":["pay","not_pay"],"range":["#e42a20","#5050d8"]},"legend":{"title":null,"orient":"none","legendX":132,"legendY":128}},"shape":{"field":"s","type":"nominal","scale":{"domain":["pay","not_pay"],"range":["circle","triangle-up"]},"legend":{"title":null,"orient":"none","legendX":132,"legendY":128}},"size":{"field":"s","type":"nominal","scale":{"domain":["pay","not_pay"],"range":[140,190]},"legend":{"title":null,"orient":"none","legendX":132,"legendY":128}},"opacity":{"field":"n","type":"quantitative","scale":{"domain":[1,6],"range":[0.3,1],"clamp":true},"legend":null}}},
{"data":{"name":"p5"},"transform":[{"filter":"datum.s=='not_pay'&&datum.n>=6"}],"mark":{"type":"point","filled":true,"size":190,"clip":true,"shape":"triangle-up","color":"#2e459f","opacity":1}}]},
{"title":{"text":"generated","offset":4},"width":279,"height":199,"encoding":{"x":{"field":"x","type":"quantitative","title":"PAY_3","scale":{"domain":[-0.209,0.744],"nice":false,"zero":false},"axis":{"values":[-0.2,0,0.2,0.4,0.6],"format":".1f"}},"y":{"field":"y","type":"quantitative","title":null,"scale":{"domain":[-0.224,0.77],"nice":false,"zero":false},"axis":{"values":[0,0.25,0.5,0.75],"format":".2f"}}},
"layer":[{"data":{"name":"a6"},"transform":[{"filter":"datum.s=='pay'"}],"mark":{"type":"area","color":"#e42a20","clip":true,"opacity":1},"encoding":{"y2":{"field":"y2"}}},
{"data":{"name":"p6"},"mark":{"type":"point","filled":true,"clip":true},"encoding":{"color":{"field":"s","type":"nominal","scale":{"domain":["pay","not_pay"],"range":["#e42a20","#5050d8"]},"legend":{"title":null,"orient":"none","legendX":132,"legendY":9}},"shape":{"field":"s","type":"nominal","scale":{"domain":["pay","not_pay"],"range":["circle","triangle-up"]},"legend":{"title":null,"orient":"none","legendX":132,"legendY":9}},"size":{"field":"s","type":"nominal","scale":{"domain":["pay","not_pay"],"range":[140,190]},"legend":{"title":null,"orient":"none","legendX":132,"legendY":9}},"opacity":{"field":"n","type":"quantitative","scale":{"domain":[1,6],"range":[0.3,1],"clamp":true},"legend":null}}},
{"data":{"name":"a6"},"transform":[{"filter":"datum.s=='not_pay'"}],"mark":{"type":"area","color":"#2e459f","clip":true,"opacity":1},"encoding":{"y2":{"field":"y2"}}}]}
]}]},
{"spacing":0,"align":"none","resolve":{"scale":{"color":"independent","shape":"independent","opacity":"independent","size":"independent"},"legend":{"color":"independent","shape":"independent","opacity":"independent","size":"independent"}},"hconcat":[
{"width":1,"height":1,"view":{"fill":null,"stroke":null},"data":{"name":"none"},"mark":{"type":"point"},"encoding":{}},
{"spacing":2,"align":"none","resolve":{"scale":{"color":"independent","shape":"independent","opacity":"independent","size":"independent"},"legend":{"color":"independent","shape":"independent","opacity":"independent","size":"independent"}},"hconcat":[
{"title":"real","width":280,"height":199,"encoding":{"x":{"field":"x","type":"quantitative","title":"PAY_5","scale":{"domain":[-0.217,0.792],"nice":false,"zero":false},"axis":{"values":[0,0.25,0.5,0.75],"format":".2f"}},"y":{"field":"y","type":"quantitative","title":"PAY_6","scale":{"domain":[-0.22,0.794],"nice":false,"zero":false},"axis":{"values":[0,0.25,0.5,0.75],"format":".2f"}}},
"layer":[{"data":{"name":"p7"},"mark":{"type":"point","filled":true,"clip":true},"encoding":{"color":{"field":"s","type":"nominal","scale":{"domain":["pay","not_pay"],"range":["#e42a20","#5050d8"]},"legend":{"title":null,"orient":"none","legendX":131,"legendY":128}},"shape":{"field":"s","type":"nominal","scale":{"domain":["pay","not_pay"],"range":["circle","triangle-up"]},"legend":{"title":null,"orient":"none","legendX":131,"legendY":128}},"size":{"field":"s","type":"nominal","scale":{"domain":["pay","not_pay"],"range":[140,190]},"legend":{"title":null,"orient":"none","legendX":131,"legendY":128}},"opacity":{"field":"n","type":"quantitative","scale":{"domain":[1,6],"range":[0.3,1],"clamp":true},"legend":null}}},
{"data":{"name":"p7"},"transform":[{"filter":"datum.s=='not_pay'&&datum.n>=6"}],"mark":{"type":"point","filled":true,"size":190,"clip":true,"shape":"triangle-up","color":"#2e459f","opacity":1}}]},
{"title":"generated","width":279,"height":199,"encoding":{"x":{"field":"x","type":"quantitative","title":"PAY_5","scale":{"domain":[-0.216,0.789],"nice":false,"zero":false},"axis":{"values":[0,0.25,0.5,0.75],"format":".2f"}},"y":{"field":"y","type":"quantitative","title":null,"scale":{"domain":[-0.22,0.794],"nice":false,"zero":false},"axis":{"values":[0,0.25,0.5,0.75],"format":".2f"}}},
"layer":[{"data":{"name":"a8"},"transform":[{"filter":"datum.s=='pay'"}],"mark":{"type":"area","color":"#e42a20","clip":true,"opacity":1},"encoding":{"y2":{"field":"y2"}}},
{"data":{"name":"p8"},"mark":{"type":"point","filled":true,"clip":true},"encoding":{"color":{"field":"s","type":"nominal","scale":{"domain":["pay","not_pay"],"range":["#e42a20","#5050d8"]},"legend":{"title":null,"orient":"none","legendX":132,"legendY":9}},"shape":{"field":"s","type":"nominal","scale":{"domain":["pay","not_pay"],"range":["circle","triangle-up"]},"legend":{"title":null,"orient":"none","legendX":132,"legendY":9}},"size":{"field":"s","type":"nominal","scale":{"domain":["pay","not_pay"],"range":[140,190]},"legend":{"title":null,"orient":"none","legendX":132,"legendY":9}},"opacity":{"field":"n","type":"quantitative","scale":{"domain":[1,6],"range":[0.3,1],"clamp":true},"legend":null}}},
{"data":{"name":"a8"},"transform":[{"filter":"datum.s=='not_pay'"}],"mark":{"type":"area","color":"#2e459f","clip":true,"opacity":1},"encoding":{"y2":{"field":"y2"}}}]}
]}]}
]}
